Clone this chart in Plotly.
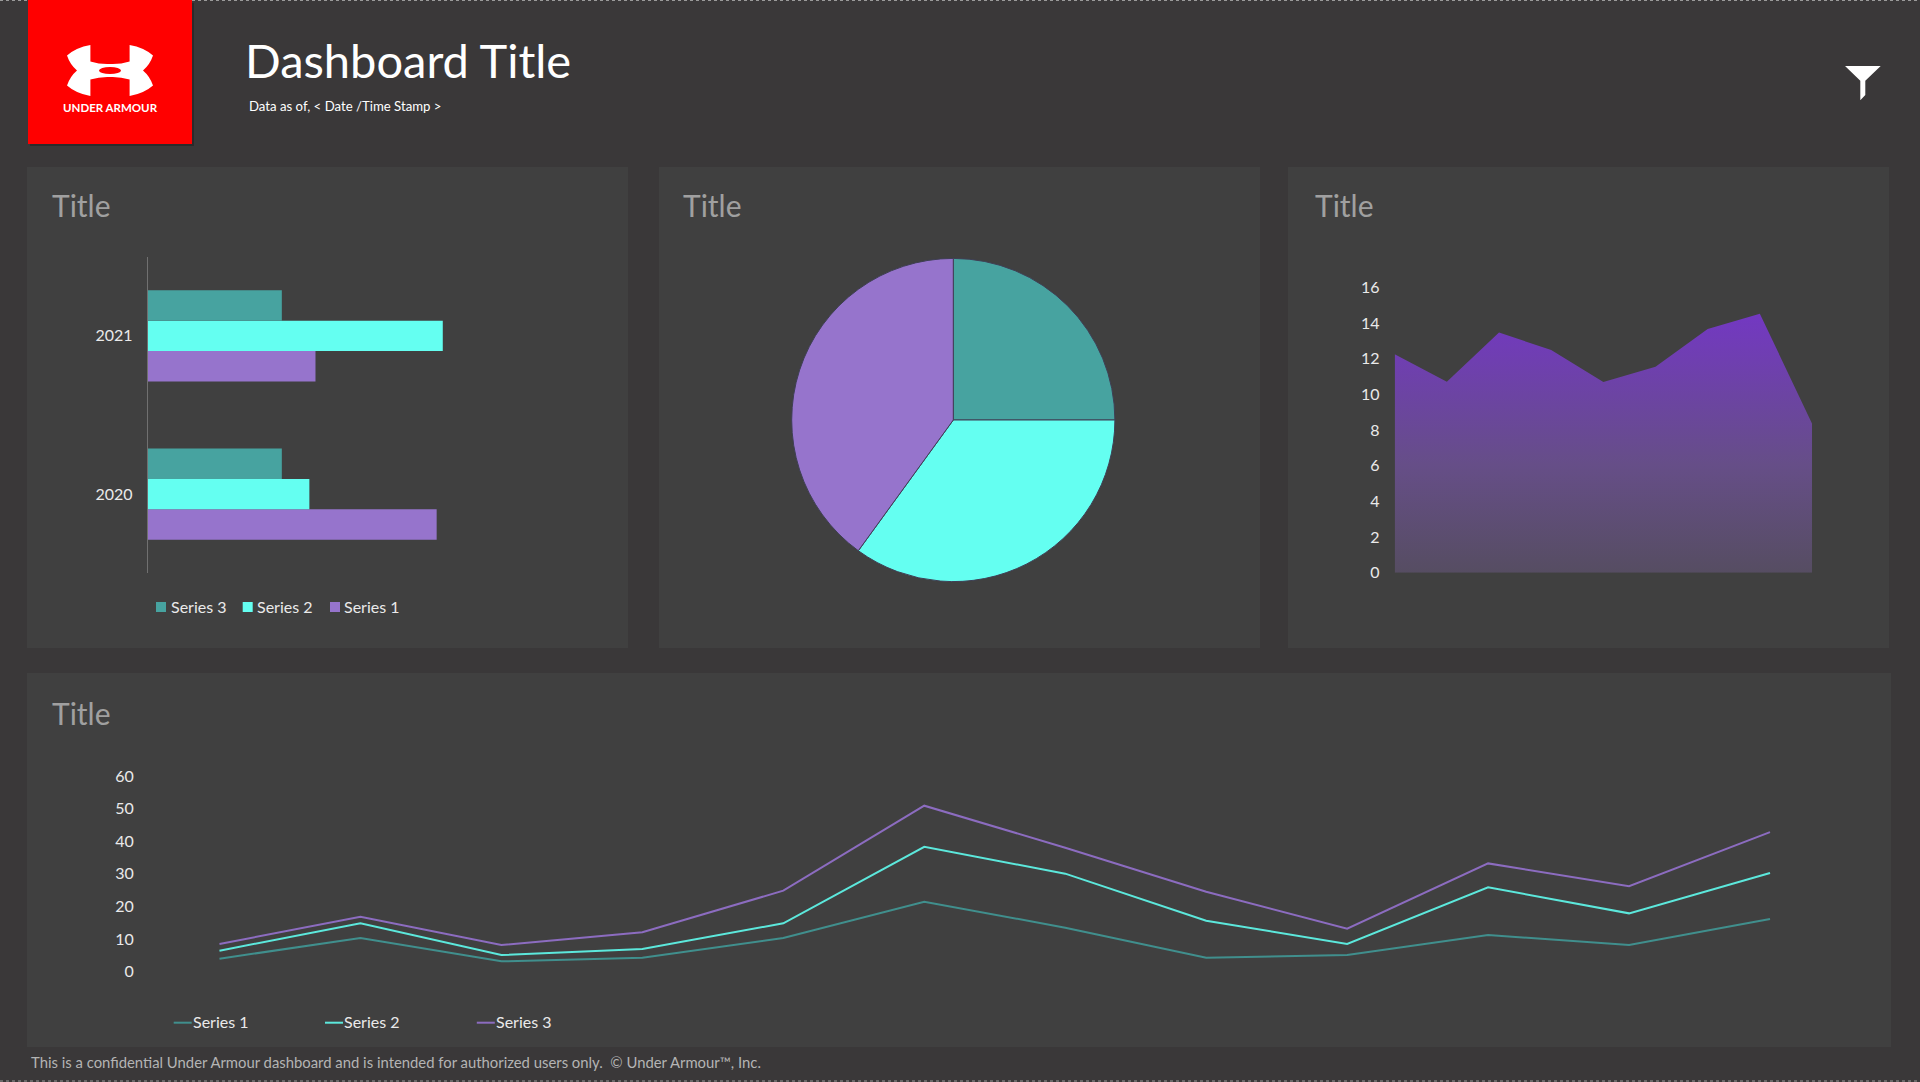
import plotly.graph_objects as go

W, H = 1920, 1082

# ---------- data ----------
bar_years = ["2020", "2021"]
bar_s1 = [4.72, 2.74]
bar_s2 = [2.64, 4.82]
bar_s3 = [2.19, 2.19]

pie_values = [25, 35, 40]

area_cats = list(range(9))
area_vals = [12.24, 10.71, 13.46, 12.49, 10.69, 11.55, 13.66, 14.52, 8.37]
area_ticks = [0, 2, 4, 6, 8, 10, 12, 14, 16]

line_cats = list(range(12))
line_s1 = [3.99, 10.33, 3.17, 4.29, 10.33, 21.47, 13.5, 4.29, 5.11, 11.25, 8.18, 16.16]
line_s2 = [6.44, 14.83, 5.11, 6.95, 14.83, 38.3, 30.06, 15.64, 8.49, 25.87, 17.89, 30.27]
line_s3 = [8.49, 16.87, 8.18, 12.07, 24.85, 50.9, 38.0, 24.5, 13.2, 33.2, 26.2, 42.8]
line_ticks = [0, 10, 20, 30, 40, 50, 60]

# ---------- style ----------
BG, PANEL = "#3A3839", "#404040"
TEAL, CYAN, PURPLE = "#47A3A0", "#64FFF1", "#9674CC"
L_TEAL, L_CYAN, L_PURPLE = "#408F8D", "#5CE8DC", "#8C6CC0"
LABEL = "#EAEAEA"
FONT = "Lato"


def px(x):
    return x / W


def py(y):
    return 1 - y / H


def dom_x(a, b):
    return [px(a), px(b)]


def dom_y(top, bottom):
    return [py(bottom), py(top)]


fig = go.Figure()

# bars
for name, vals, col in [("Series 1", bar_s1, PURPLE), ("Series 2", bar_s2, CYAN), ("Series 3", bar_s3, TEAL)]:
    fig.add_trace(go.Bar(y=bar_years, x=vals, name=name, orientation="h", marker=dict(color=col, line=dict(width=0)),
                         xaxis="x", yaxis="y", showlegend=False))

# pie
cx, cy, r = 953.3, 420, 161.6
fig.add_trace(go.Pie(values=pie_values, labels=["Series 1", "Series 2", "Series 3"], sort=False, direction="clockwise",
                     rotation=0, textinfo="none", showlegend=False,
                     marker=dict(colors=[TEAL, CYAN, PURPLE], line=dict(color="#3F3F55", width=1)),
                     domain=dict(x=dom_x(cx - r, cx + r), y=dom_y(cy - r, cy + r))))

# area
fig.add_trace(go.Scatter(x=area_cats, y=area_vals, mode="lines", line=dict(width=0), fill="tozeroy",
                         fillgradient=dict(type="vertical",
                                           colorscale=[[0, "#564D62"], [0.42, "#664E88"], [1, "#7338C2"]]),
                         xaxis="x2", yaxis="y2", showlegend=False))

# lines
for name, vals, col, w in [("Series 1", line_s1, L_TEAL, 2), ("Series 2", line_s2, L_CYAN, 2),
                           ("Series 3", line_s3, L_PURPLE, 2)]:
    fig.add_trace(go.Scatter(x=line_cats, y=vals, mode="lines", name=name, line=dict(color=col, width=w),
                             xaxis="x3", yaxis="y3", showlegend=False))

shapes = []


def rect(x0, y0, x1, y1, color, layer="below"):
    shapes.append(dict(type="rect", xref="paper", yref="paper", x0=px(x0), x1=px(x1), y0=py(y1), y1=py(y0),
                       fillcolor=color, line=dict(width=0), layer=layer))


def poly(points, color):
    d = "M" + " L".join(f"{px(a):.5f},{py(b):.5f}" for a, b in points) + " Z"
    shapes.append(dict(type="path", xref="paper", yref="paper", path=d, fillcolor=color, line=dict(width=0),
                       layer="above"))


# panels
rect(27, 167, 628, 648, PANEL)
rect(659, 167, 1260, 648, PANEL)
rect(1288, 167, 1889, 648, PANEL)
rect(27, 673, 1891, 1047, PANEL)

# dashed page edges
for y in (0.5, 1081):
    shapes.append(dict(type="line", xref="paper", yref="paper", x0=0, x1=1, y0=py(y), y1=py(y),
                       line=dict(color="#9A9A9A", width=1, dash="3px,3px"), layer="below"))

# logo
rect(30, 3, 194, 146, "#2B2A2B")
rect(28, 0, 192, 144, "#FF0000")
lx, ly = 110, 70.5


def qpath(cmds):
    out = []
    for c in cmds:
        if c[0] == "Z":
            out.append("Z")
        else:
            pts = [f"{px(lx + c[i]):.5f},{py(ly + c[i + 1]):.5f}" for i in range(1, len(c), 2)]
            out.append(c[0] + " ".join(pts))
    return " ".join(out)


emblem = [("M", 19.6, -25.5), ("Q", 34, -23, 43, -15), ("Q", 40, -6, 33, 0), ("Q", 40, 6, 43, 15),
          ("Q", 34, 23, 19.6, 25.5), ("L", 19.6, 9), ("Q", 10, 6, 0, 6.5), ("Q", -10, 6, -19.6, 9),
          ("L", -19.6, 25.5), ("Q", -34, 23, -43, 15), ("Q", -40, 6, -33, 0), ("Q", -40, -6, -43, -15),
          ("Q", -34, -23, -19.6, -25.5), ("L", -19.6, -9), ("Q", -10, -6, 0, -6.5), ("Q", 10, -6, 19.6, -9), ("Z",)]
shapes.append(dict(type="path", xref="paper", yref="paper", path=qpath(emblem), fillcolor="#FFFFFF",
                   line=dict(width=0), layer="above"))
shapes.append(dict(type="circle", xref="paper", yref="paper", x0=px(lx - 11), x1=px(lx + 11), y0=py(ly + 3.6),
                   y1=py(ly - 3.6), fillcolor="#FF0000", line=dict(width=0), layer="above"))

# filter icon
poly([(1845, 66), (1880.7, 66), (1865.3, 80.7), (1865.3, 95), (1860.3, 100.3), (1860.3, 80.7)], "#FFFFFF")

annotations = []


def text(x, y, s, size, color, anchor="left", family=FONT, weight=None):
    f = dict(family=family, size=size, color=color)
    if weight:
        f["weight"] = weight
    annotations.append(dict(xref="paper", yref="paper", x=px(x), y=py(y - 1), text=s, showarrow=False, xanchor=anchor,
                            yanchor="middle", font=f, xshift=0, borderpad=0, borderwidth=0))


text(245, 61, "Dashboard Title", 47, "#FFFFFF", family="Lato")
text(248.6, 107, "Data as of, &lt; Date /Time Stamp &gt;", 13.2, "#FFFFFF")
text(110, 108, "UNDER ARMOUR", 11.5, "#FFFFFF", anchor="center", weight="bold")
for tx, ty in [(51.5, 206), (683, 206), (1315, 206), (51.5, 714)]:
    text(tx, ty, "Title", 30, "#A0A0A0")
text(31, 1063, "This is a confidential Under Armour dashboard and is intended for authorized users only.  © Under Armour™, Inc.",
     14.85, "#B4B4B4")

# hand-placed legends, matching the reference's tight swatches
for sx, tx, name, col in [(156, 170.7, "Series 3", TEAL), (242.7, 257, "Series 2", CYAN), (330, 344, "Series 1", PURPLE)]:
    rect(sx, 602, sx + 10, 612, col)
    text(tx, 607, name, 16, LABEL)
for sx, tx, name, col in [(173.7, 192.5, "Series 1", L_TEAL), (325, 344, "Series 2", L_CYAN),
                          (476.8, 495.7, "Series 3", L_PURPLE)]:
    shapes.append(dict(type="line", xref="paper", yref="paper", x0=px(sx), x1=px(sx + 18), y0=py(1022.7), y1=py(1022.7),
                       line=dict(color=col, width=2)))
    text(tx, 1022.7, name, 16, LABEL)

hidden = dict(visible=False, showgrid=False, zeroline=False, automargin=False)
tickfont = dict(family=FONT, size=16, color=LABEL)
fig.update_layout(
    template="none",
    width=W, height=H, margin=dict(l=0, r=0, t=0, b=0, pad=0), autosize=False,
    paper_bgcolor=BG, plot_bgcolor="rgba(0,0,0,0)", barmode="group", bargap=0.423, bargroupgap=0,
    showlegend=False, shapes=shapes, annotations=annotations,
    xaxis=dict(hidden, domain=dom_x(147.8, 515), range=[0, 6]),
    yaxis=dict(domain=dom_y(256.7, 573.3), type="category", range=[-0.5, 1.5], showgrid=False, zeroline=False,
               automargin=False, showline=True, linecolor="#707070", linewidth=1, ticks="outside", ticklen=11,
               tickcolor="rgba(0,0,0,0)", tickfont=tickfont, anchor="x"),
    xaxis2=dict(hidden, domain=dom_x(1394.7, 1812), range=[0, 8], anchor="y2"),
    yaxis2=dict(domain=dom_y(287.3, 572.7), range=[0, 16], tickvals=area_ticks, showgrid=False, zeroline=False,
                automargin=False, showline=False, ticks="outside", ticklen=11, tickcolor="rgba(0,0,0,0)",
                tickfont=tickfont, anchor="x2"),
    xaxis3=dict(hidden, domain=dom_x(149, 1840.5), range=[-0.5, 11.5], anchor="y3"),
    yaxis3=dict(domain=dom_y(776, 971.7), range=[0, 60], tickvals=line_ticks, showgrid=False, zeroline=False,
                automargin=False, showline=False, ticks="outside", ticklen=11, tickcolor="rgba(0,0,0,0)",
                tickfont=tickfont, anchor="x3"),
)

fig.write_html("out.html", config=dict(displayModeBar=False),
               post_script="document.body.style.margin='0';document.body.style.overflow='hidden';")
